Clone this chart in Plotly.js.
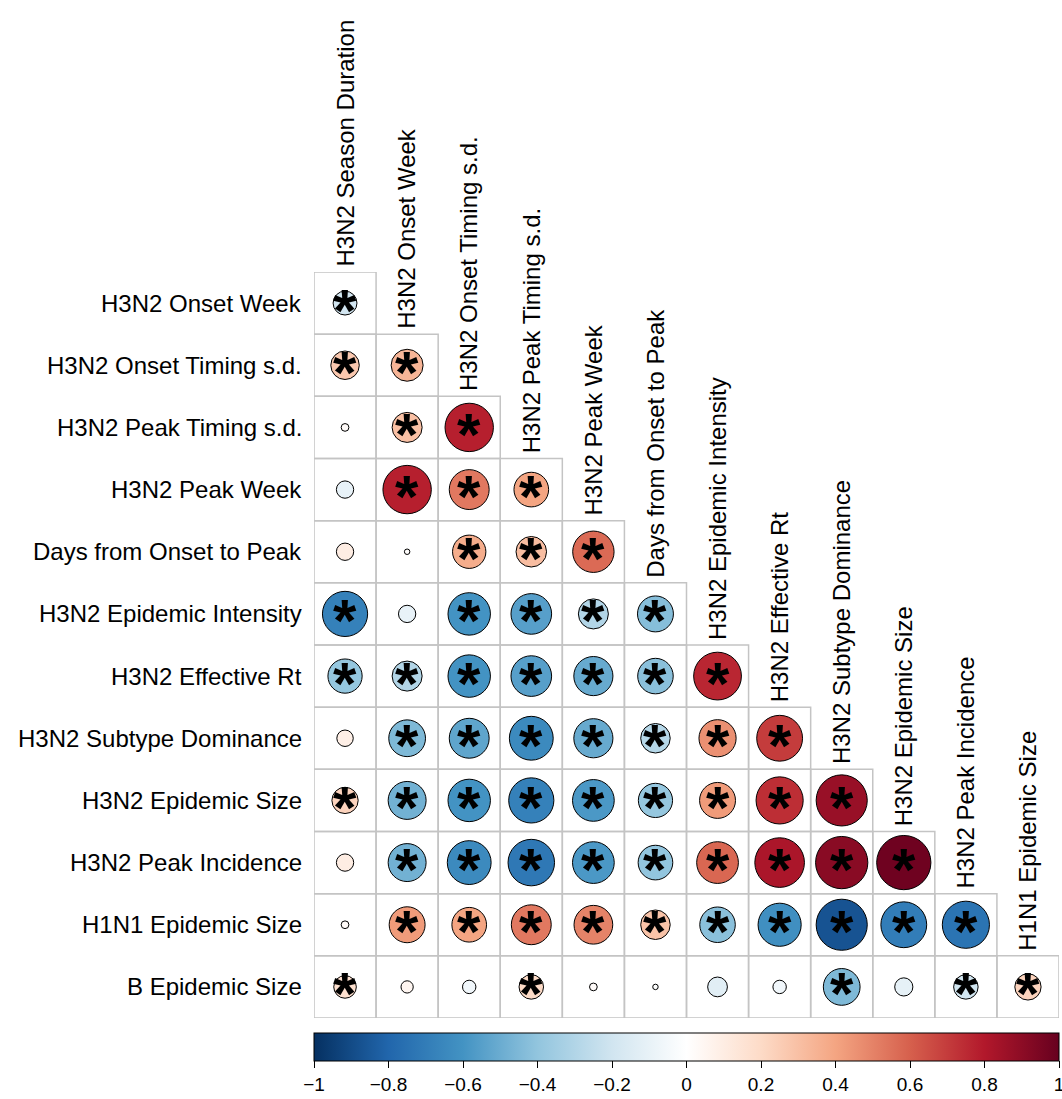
<!DOCTYPE html>
<html>
<head>
<meta charset="utf-8">
<script src="https://cdn.plot.ly/plotly-3.0.1.min.js"></script>
<style>html,body{margin:0;padding:0;background:#fff;}</style>
</head>
<body>
<div id="chart" style="width:1062px;height:1099px;"></div>
<script>
// Row variables (top to bottom)
const rowLabels = [
  "H3N2 Onset Week",
  "H3N2 Onset Timing s.d.",
  "H3N2 Peak Timing s.d.",
  "H3N2 Peak Week",
  "Days from Onset to Peak",
  "H3N2 Epidemic Intensity",
  "H3N2 Effective Rt",
  "H3N2 Subtype Dominance",
  "H3N2 Epidemic Size",
  "H3N2 Peak Incidence",
  "H1N1 Epidemic Size",
  "B Epidemic Size"
];
// Column variables (left to right)
const colLabels = [
  "H3N2 Season Duration",
  "H3N2 Onset Week",
  "H3N2 Onset Timing s.d.",
  "H3N2 Peak Timing s.d.",
  "H3N2 Peak Week",
  "Days from Onset to Peak",
  "H3N2 Epidemic Intensity",
  "H3N2 Effective Rt",
  "H3N2 Subtype Dominance",
  "H3N2 Epidemic Size",
  "H3N2 Peak Incidence",
  "H1N1 Epidemic Size"
];
// Lower-triangle correlation values, one row per row variable
const corrRows = [
  [-0.19],
  [0.27, 0.34],
  [0.02, 0.30, 0.78],
  [-0.10, 0.78, 0.53, 0.40],
  [0.10, 0.01, 0.37, 0.31, 0.57],
  [-0.68, -0.10, -0.60, -0.55, -0.30, -0.43],
  [-0.39, -0.30, -0.60, -0.55, -0.51, -0.42, 0.76],
  [0.09, -0.45, -0.53, -0.64, -0.51, -0.29, 0.46, 0.70],
  [0.23, -0.48, -0.60, -0.68, -0.58, -0.39, 0.43, 0.74, 0.87],
  [0.10, -0.48, -0.64, -0.72, -0.58, -0.40, 0.58, 0.82, 0.91, 0.98],
  [0.02, 0.43, 0.40, 0.53, 0.50, 0.29, -0.42, -0.62, -0.87, -0.70, -0.74],
  [0.17, 0.05, -0.06, 0.20, 0.02, -0.01, -0.13, -0.06, -0.45, -0.11, -0.20, 0.23]
];
// Significance flags (1 = asterisk)
const sigRows = [
  [1],
  [1, 1],
  [0, 1, 1],
  [0, 1, 1, 1],
  [0, 0, 1, 1, 1],
  [1, 0, 1, 1, 1, 1],
  [1, 1, 1, 1, 1, 1, 1],
  [0, 1, 1, 1, 1, 1, 1, 1],
  [1, 1, 1, 1, 1, 1, 1, 1, 1],
  [0, 1, 1, 1, 1, 1, 1, 1, 1, 1],
  [0, 1, 1, 1, 1, 1, 1, 1, 1, 1, 1],
  [1, 0, 0, 1, 0, 0, 0, 0, 1, 0, 1, 1]
];
const cbTickVals = [-1, -0.8, -0.6, -0.4, -0.2, 0, 0.2, 0.4, 0.6, 0.8, 1];
const cbTickText = ["\u22121", "\u22120.8", "\u22120.6", "\u22120.4", "\u22120.2", "0", "0.2", "0.4", "0.6", "0.8", "1"];

const FONT = "Liberation Sans, Arial, Helvetica, sans-serif";
const rdbu = [
  [0.0, "#053061"], [0.1, "#2166AC"], [0.2, "#4393C3"], [0.3, "#92C5DE"],
  [0.4, "#D1E5F0"], [0.5, "#FFFFFF"], [0.6, "#FDDBC7"], [0.7, "#F4A582"],
  [0.8, "#D6604D"], [0.9, "#B2182B"], [1.0, "#67001F"]
];

const xs = [], ys = [], vals = [], sizes = [];
const shapes = [], annotations = [];
corrRows.forEach((row, i) => {
  row.forEach((v, j) => {
    const cx = j + 1, cy = i + 1;
    xs.push(cx); ys.push(cy); vals.push(v); sizes.push(Math.abs(v));
    shapes.push({
      type: "rect", xref: "x", yref: "y", layer: "below",
      x0: cx - 0.5, x1: cx + 0.5, y0: cy - 0.5, y1: cy + 0.5,
      line: { color: "#C4C4C4", width: 1.5 }, fillcolor: "rgba(0,0,0,0)"
    });
    if (sigRows[i][j]) {
      annotations.push({
        x: cx, y: cy, xref: "x", yref: "y", text: "<b>*</b>", showarrow: false,
        font: { family: FONT, size: 60, color: "#000" }, yshift: -7,
        borderpad: 0, borderwidth: 0
      });
    }
  });
});
rowLabels.forEach((lab, i) => {
  annotations.push({
    x: 0, xref: "paper", y: i + 1, yref: "y", text: lab, showarrow: false,
    xanchor: "right", xshift: -10, font: { family: FONT, size: 24, color: "#000" }
  });
});
colLabels.forEach((lab, j) => {
  annotations.push({
    x: j + 1, xref: "x", y: j + 0.5, yref: "y", text: lab, showarrow: false,
    textangle: -90, yanchor: "bottom", xanchor: "center", yshift: 3,
    font: { family: FONT, size: 24, color: "#000" }
  });
});

const trace = {
  type: "scatter", mode: "markers", x: xs, y: ys,
  hoverinfo: "skip",
  marker: {
    symbol: "circle", size: sizes, sizemode: "area", sizeref: 1 / (2 * 27.4 * 27.4),
    opacity: 1,
    color: vals, colorscale: rdbu, cmin: -1, cmax: 1,
    line: { color: "#000", width: 1 },
    showscale: true,
    colorbar: {
      orientation: "h", x: 0.5, xanchor: "center", y: -0.0201, yanchor: "top",
      len: 1, lenmode: "fraction", thickness: 28, thicknessmode: "pixels",
      outlinecolor: "#000", outlinewidth: 1, xpad: 0, ypad: 0, borderwidth: 0,
      ticks: "outside", ticklen: 7, tickcolor: "#000", tickwidth: 1,
      tickvals: cbTickVals, ticktext: cbTickText, ticklabeloverflow: "allow",
      tickfont: { family: FONT, size: 19, color: "#000" }
    }
  }
};

const layout = {
  width: 1062, height: 1099,
  margin: { l: 314, r: 3, t: 272, b: 81 },
  paper_bgcolor: "#fff", plot_bgcolor: "#fff",
  showlegend: false,
  xaxis: { range: [0.5, 12.5], visible: false, fixedrange: true },
  yaxis: { range: [12.5, 0.5], visible: false, fixedrange: true },
  shapes: shapes,
  annotations: annotations
};

Plotly.newPlot("chart", [trace], layout, { displayModeBar: false, staticPlot: true });
</script>
</body>
</html>
